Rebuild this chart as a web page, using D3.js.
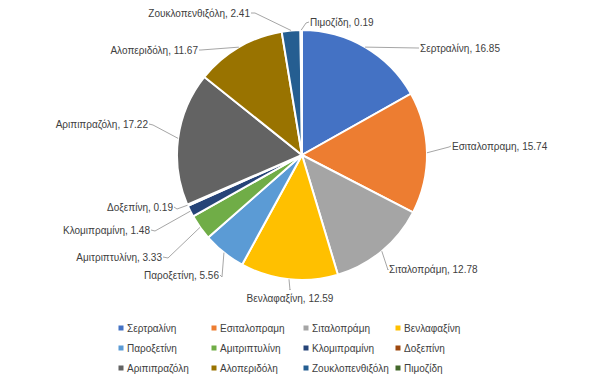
<!DOCTYPE html>
<html>
<head>
<meta charset="utf-8">
<script src="https://cdn.jsdelivr.net/npm/d3@7"></script>
<style>
body { margin: 0; background: #fff; }
text { font-family: "Liberation Sans", "DejaVu Sans", sans-serif; font-size: 10px; fill: #404040; }
</style>
</head>
<body>
<script>
const width = 608
const height = 385
const cx = 302
const cy = 155
const radius = 125

const drugs = ['Σερτραλίνη', 'Εσιταλοπραμη', 'Σιταλοπράμη', 'Βενλαφαξίνη', 'Παροξετίνη', 'Αμιτριπτυλίνη',
	'Κλομιπραμίνη', 'Δοξεπίνη', 'Αριπιπραζόλη', 'Αλοπεριδόλη', 'Ζουκλοπενθιξόλη', 'Πιμοζίδη']
const values = [16.85, 15.74, 12.78, 12.59, 5.56, 3.33, 1.48, 0.19, 17.22, 11.67, 2.41, 0.19]
const colors = ['#4472C4', '#ED7D31', '#A5A5A5', '#FFC000', '#5B9BD5', '#70AD47',
	'#264478', '#9E480E', '#636363', '#997300', '#255E91', '#43682B']

// label layout: text anchor point, alignment, elbow point of leader line
const labelLayout = [
	{ x: 420, y: 48, anchor: 'start', elbow: [418, 48] },
	{ x: 452, y: 146, anchor: 'start', elbow: [449, 147] },
	{ x: 389, y: 269, anchor: 'start', elbow: [388, 270] },
	{ x: 290, y: 298, anchor: 'middle', elbow: [290, 290] },
	{ x: 219, y: 275, anchor: 'end', elbow: [222, 277] },
	{ x: 162, y: 257, anchor: 'end', elbow: [168, 258] },
	{ x: 150, y: 230, anchor: 'end', elbow: [155, 231] },
	{ x: 173, y: 207, anchor: 'end', elbow: [177, 209] },
	{ x: 148, y: 124, anchor: 'end', elbow: [153, 125] },
	{ x: 198, y: 50, anchor: 'end', elbow: [201, 50] },
	{ x: 250, y: 13, anchor: 'end', elbow: [255, 13] },
	{ x: 310, y: 22, anchor: 'start', elbow: [306, 23] }
]

const data = drugs.map((name, i) => ({ name, value: values[i], color: colors[i] }))

const svg = d3.select('body')
	.append('svg')
	.attr('width', width)
	.attr('height', height)

const pie = d3.pie()
	.sort(null)
	.value(d => d.value)

const arc = d3.arc()
	.innerRadius(0)
	.outerRadius(radius)

const edgeArc = d3.arc()
	.innerRadius(radius)
	.outerRadius(radius)

const arcs = pie(data)

const g = svg.append('g')
	.attr('transform', `translate(${cx},${cy})`)

g.selectAll('path')
	.data(arcs)
	.enter()
	.append('path')
	.attr('d', arc)
	.attr('fill', d => d.data.color)
	.attr('stroke', '#fff')
	.attr('stroke-width', 2)

// leader lines
g.selectAll('.leader')
	.data(arcs)
	.enter()
	.append('polyline')
	.attr('class', 'leader')
	.attr('fill', 'none')
	.attr('stroke', '#A6A6A6')
	.attr('stroke-width', 1)
	.attr('points', (d, i) => {
		const p = edgeArc.centroid(d)
		const e = labelLayout[i].elbow
		const t = labelLayout[i]
		const endX = t.anchor === 'end' ? t.x + 1 : (t.anchor === 'start' ? t.x - 1 : t.x)
		return [p, [e[0] - cx, e[1] - cy], [endX - cx, (t.anchor === 'middle' ? t.y - 9 : t.y) - cy]].map(q => q.join(',')).join(' ')
	})

g.selectAll('.label')
	.data(arcs)
	.enter()
	.append('text')
	.attr('class', 'label')
	.attr('x', (d, i) => labelLayout[i].x - cx)
	.attr('y', (d, i) => labelLayout[i].y - cy)
	.attr('dy', '0.35em')
	.attr('text-anchor', (d, i) => labelLayout[i].anchor)
	.text(d => `${d.data.name}, ${d.data.value.toFixed(2)}`)

// Legend
const legendCols = [121, 214, 306, 398]
const legendRows = [328, 348, 368]

const legend = svg.selectAll('.legend')
	.data(data)
	.enter()
	.append('g')
	.attr('class', 'legend')
	.attr('transform', (d, i) => `translate(${legendCols[i % 4]},${legendRows[Math.floor(i / 4)]})`)

legend.append('rect')
	.attr('x', -2.5)
	.attr('y', -2.5)
	.attr('width', 5)
	.attr('height', 5)
	.attr('fill', d => d.color)

legend.append('text')
	.attr('x', 6)
	.attr('dy', '0.35em')
	.text(d => d.name)
</script>
</body>
</html>
